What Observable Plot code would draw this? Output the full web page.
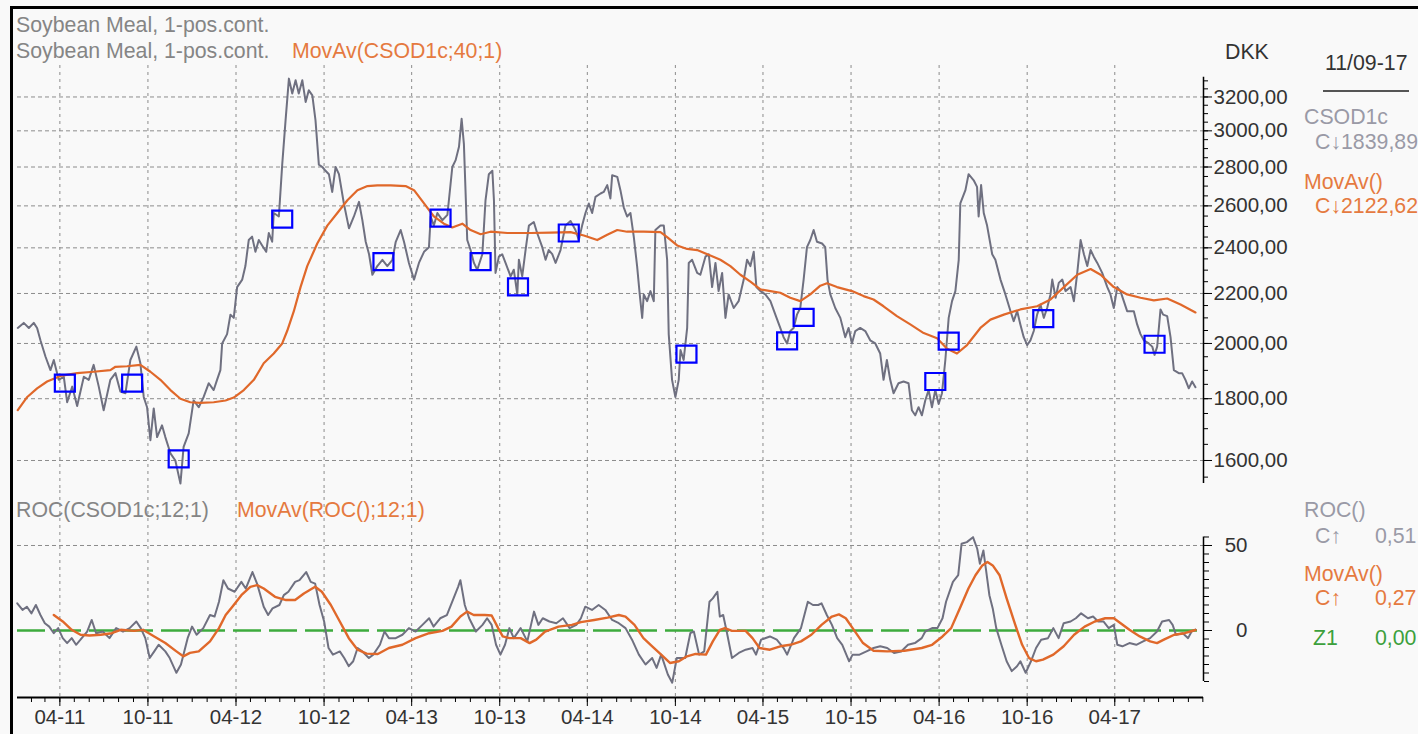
<!DOCTYPE html>
<html><head><meta charset="utf-8">
<script src="https://cdn.jsdelivr.net/npm/d3@7"></script>
<script src="https://cdn.jsdelivr.net/npm/@observablehq/plot@0.6"></script>
<style>
html,body{margin:0;padding:0;background:#f9f9f9;}
#chart{position:relative;width:1418px;height:734px;overflow:hidden;background:#f9f9f9;font-family:"Liberation Sans",Arial,sans-serif;}
#chart svg{position:absolute;left:0;}
.lbl{position:absolute;font-size:21.3px;line-height:20px;white-space:nowrap;}
.frame{position:absolute;background:#000;}
</style>
</head><body>
<div id="chart"></div>
<script>
// ---------- DATA (decimal year, value) ----------
const price = [
[2011.007,2060],[2011.041,2080],[2011.070,2060],[2011.098,2080],[2011.117,2060],[2011.136,2012],[2011.165,1950],[2011.193,1901],[2011.212,1938],[2011.240,1866],[2011.269,1877],[2011.288,1788],[2011.317,1842],[2011.345,1775],[2011.383,1877],[2011.411,1866],[2011.439,1920],[2011.468,1842],[2011.496,1761],[2011.534,1866],[2011.563,1890],[2011.591,1825],[2011.620,1819],[2011.648,1938],[2011.682,1988],[2011.705,1926],[2011.724,1806],[2011.743,1771],[2011.762,1663],[2011.781,1767],[2011.800,1673],[2011.828,1711],[2011.847,1673],[2011.876,1622],[2011.904,1600],[2011.933,1531],[2011.951,1642],[2011.980,1685],[2012.008,1794],[2012.037,1771],[2012.065,1806],[2012.094,1854],[2012.122,1830],[2012.141,1866],[2012.160,1901],[2012.170,2000],[2012.198,2036],[2012.217,2113],[2012.236,2100],[2012.255,2227],[2012.284,2259],[2012.302,2318],[2012.321,2436],[2012.340,2452],[2012.359,2382],[2012.378,2436],[2012.397,2411],[2012.420,2382],[2012.435,2469],[2012.454,2428],[2012.463,2565],[2012.492,2548],[2012.511,2813],[2012.530,3060],[2012.549,3314],[2012.568,3221],[2012.587,3304],[2012.605,3221],[2012.625,3304],[2012.644,3170],[2012.662,3241],[2012.682,3210],[2012.700,3060],[2012.719,2813],[2012.739,2800],[2012.757,2780],[2012.776,2762],[2012.795,2670],[2012.814,2800],[2012.833,2762],[2012.861,2612],[2012.890,2491],[2012.918,2548],[2012.947,2620],[2012.966,2530],[2012.985,2428],[2013.004,2371],[2013.023,2280],[2013.051,2318],[2013.080,2346],[2013.108,2318],[2013.137,2346],[2013.156,2428],[2013.184,2483],[2013.203,2428],[2013.231,2332],[2013.260,2259],[2013.288,2332],[2013.317,2382],[2013.345,2403],[2013.355,2548],[2013.373,2504],[2013.393,2565],[2013.421,2530],[2013.450,2556],[2013.478,2800],[2013.497,2837],[2013.516,2910],[2013.531,3070],[2013.544,2925],[2013.563,2436],[2013.582,2390],[2013.601,2332],[2013.620,2302],[2013.649,2371],[2013.667,2628],[2013.686,2762],[2013.706,2780],[2013.715,2628],[2013.724,2288],[2013.743,2360],[2013.762,2371],[2013.781,2332],[2013.810,2273],[2013.828,2302],[2013.848,2196],[2013.857,2346],[2013.876,2273],[2013.895,2390],[2013.914,2504],[2013.942,2521],[2013.961,2469],[2013.990,2403],[2014.009,2346],[2014.027,2390],[2014.047,2371],[2014.066,2332],[2014.094,2390],[2014.122,2504],[2014.151,2526],[2014.179,2483],[2014.198,2436],[2014.217,2504],[2014.236,2565],[2014.255,2612],[2014.274,2565],[2014.293,2645],[2014.322,2662],[2014.340,2670],[2014.360,2705],[2014.378,2637],[2014.388,2756],[2014.417,2748],[2014.435,2679],[2014.454,2593],[2014.473,2548],[2014.492,2565],[2014.511,2452],[2014.530,2318],[2014.545,2196],[2014.559,2100],[2014.568,2196],[2014.587,2168],[2014.606,2210],[2014.625,2168],[2014.634,2483],[2014.663,2504],[2014.682,2504],[2014.701,2346],[2014.710,2036],[2014.729,1866],[2014.748,1806],[2014.767,1866],[2014.777,1975],[2014.795,1938],[2014.815,2060],[2014.824,2332],[2014.843,2346],[2014.872,2288],[2014.890,2280],[2014.919,2360],[2014.938,2371],[2014.957,2227],[2014.976,2332],[2014.994,2210],[2015.014,2288],[2015.033,2100],[2015.051,2196],[2015.080,2140],[2015.108,2168],[2015.137,2259],[2015.156,2346],[2015.175,2318],[2015.194,2382],[2015.209,2227],[2015.232,2210],[2015.260,2196],[2015.289,2168],[2015.317,2113],[2015.345,2060],[2015.364,2024],[2015.384,2000],[2015.402,2048],[2015.421,2060],[2015.440,2113],[2015.459,2140],[2015.478,2259],[2015.497,2403],[2015.516,2436],[2015.535,2483],[2015.554,2428],[2015.583,2420],[2015.601,2403],[2015.614,2259],[2015.630,2196],[2015.658,2140],[2015.687,2100],[2015.715,2024],[2015.734,2060],[2015.753,2000],[2015.772,2048],[2015.800,2060],[2015.829,2048],[2015.857,2012],[2015.886,2000],[2015.914,1962],[2015.933,1866],[2015.952,1938],[2015.971,1866],[2015.990,1819],[2016.018,1854],[2016.047,1860],[2016.075,1854],[2016.094,1761],[2016.113,1744],[2016.132,1771],[2016.151,1744],[2016.170,1794],[2016.189,1830],[2016.208,1771],[2016.227,1830],[2016.246,1782],[2016.265,1819],[2016.284,1938],[2016.303,2100],[2016.322,2168],[2016.341,2210],[2016.360,2346],[2016.369,2612],[2016.398,2679],[2016.416,2762],[2016.445,2730],[2016.464,2696],[2016.473,2548],[2016.487,2705],[2016.502,2565],[2016.521,2504],[2016.550,2371],[2016.568,2346],[2016.597,2259],[2016.625,2196],[2016.654,2127],[2016.672,2087],[2016.692,2127],[2016.710,2074],[2016.729,2024],[2016.749,1994],[2016.767,2012],[2016.786,2048],[2016.805,2113],[2016.824,2154],[2016.843,2100],[2016.862,2140],[2016.881,2196],[2016.891,2259],[2016.910,2182],[2016.928,2245],[2016.948,2259],[2016.966,2210],[2016.995,2227],[2017.014,2168],[2017.033,2288],[2017.052,2436],[2017.071,2371],[2017.090,2318],[2017.109,2390],[2017.127,2360],[2017.147,2332],[2017.175,2288],[2017.204,2227],[2017.222,2196],[2017.241,2140],[2017.261,2227],[2017.279,2210],[2017.298,2168],[2017.317,2127],[2017.355,2127],[2017.374,2074],[2017.393,2036],[2017.412,2012],[2017.440,2000],[2017.460,1988],[2017.473,1957],[2017.488,1988],[2017.507,2134],[2017.522,2113],[2017.545,2107],[2017.564,2024],[2017.583,1901],[2017.611,1890],[2017.630,1890],[2017.649,1866],[2017.668,1836],[2017.687,1860],[2017.706,1840]
];
const priceMA = [
[2011.007,1761],[2011.061,1806],[2011.117,1836],[2011.174,1860],[2011.250,1880],[2011.345,1890],[2011.439,1895],[2011.534,1901],[2011.563,1913],[2011.629,1915],[2011.705,1920],[2011.762,1895],[2011.819,1866],[2011.876,1830],[2011.933,1800],[2011.989,1788],[2012.046,1786],[2012.122,1788],[2012.189,1794],[2012.236,1804],[2012.293,1830],[2012.350,1866],[2012.406,1926],[2012.463,1962],[2012.511,2000],[2012.539,2048],[2012.577,2127],[2012.615,2227],[2012.653,2318],[2012.710,2420],[2012.767,2504],[2012.824,2565],[2012.881,2628],[2012.938,2679],[2012.995,2700],[2013.051,2704],[2013.127,2704],[2013.212,2700],[2013.260,2679],[2013.317,2612],[2013.373,2548],[2013.430,2513],[2013.478,2495],[2013.535,2513],[2013.582,2483],[2013.639,2463],[2013.696,2475],[2013.791,2469],[2013.923,2469],[2014.037,2471],[2014.151,2473],[2014.227,2457],[2014.303,2436],[2014.360,2461],[2014.417,2483],[2014.473,2475],[2014.568,2475],[2014.663,2473],[2014.701,2450],[2014.758,2411],[2014.815,2395],[2014.872,2390],[2014.947,2365],[2015.004,2346],[2015.061,2318],[2015.118,2280],[2015.175,2250],[2015.232,2217],[2015.289,2210],[2015.345,2203],[2015.402,2182],[2015.459,2168],[2015.516,2196],[2015.573,2233],[2015.611,2243],[2015.668,2227],[2015.753,2210],[2015.819,2189],[2015.876,2175],[2015.933,2147],[2016.009,2107],[2016.085,2074],[2016.161,2040],[2016.237,2020],[2016.294,1980],[2016.350,1962],[2016.407,1994],[2016.483,2060],[2016.540,2093],[2016.616,2113],[2016.710,2134],[2016.805,2147],[2016.881,2175],[2016.957,2227],[2017.033,2280],[2017.109,2305],[2017.166,2280],[2017.241,2227],[2017.317,2196],[2017.393,2182],[2017.469,2171],[2017.545,2179],[2017.621,2154],[2017.706,2122]
];
const signals = [
[2011.275,1854],[2011.658,1854],[2011.923,1605],[2012.511,2535],[2013.086,2338],[2013.411,2540],[2013.639,2338],[2013.852,2228],[2014.141,2469],[2014.811,1960],[2015.384,2010],[2015.478,2102],[2016.227,1860],[2016.303,2009],[2016.840,2097],[2017.473,1997]
];
const roc = [
[2011.004,16.0],[2011.034,12.1],[2011.059,14.0],[2011.085,10.1],[2011.110,15.0],[2011.136,9.1],[2011.161,4.3],[2011.186,2.3],[2011.212,-1.6],[2011.237,1.4],[2011.263,-4.5],[2011.288,-7.4],[2011.314,-4.5],[2011.339,-8.4],[2011.364,-5.4],[2011.402,-0.6],[2011.428,6.2],[2011.453,-1.6],[2011.491,-0.6],[2011.529,-4.5],[2011.567,1.4],[2011.606,-0.6],[2011.644,1.4],[2011.682,5.3],[2011.707,1.4],[2011.733,-4.5],[2011.758,-16.2],[2011.784,-12.3],[2011.809,-8.4],[2011.847,-12.3],[2011.872,-16.2],[2011.910,-24.9],[2011.936,-20.0],[2011.974,-4.5],[2011.999,2.3],[2012.025,-2.5],[2012.063,1.4],[2012.101,9.1],[2012.127,8.2],[2012.152,16.9],[2012.177,29.6],[2012.203,24.7],[2012.241,22.8],[2012.279,28.6],[2012.304,24.7],[2012.342,34.4],[2012.368,27.6],[2012.406,14.0],[2012.431,9.1],[2012.456,13.0],[2012.495,15.0],[2012.520,20.8],[2012.546,22.8],[2012.584,28.6],[2012.609,29.6],[2012.647,34.4],[2012.673,28.6],[2012.698,27.6],[2012.723,15.0],[2012.749,5.3],[2012.774,-10.3],[2012.799,-14.2],[2012.838,-12.3],[2012.863,-16.2],[2012.889,-21.0],[2012.914,-18.1],[2012.939,-10.3],[2012.965,-12.3],[2013.003,-16.2],[2013.028,-14.2],[2013.066,-8.4],[2013.092,-0.6],[2013.117,-4.5],[2013.156,-4.5],[2013.194,-2.5],[2013.231,1.4],[2013.269,-0.6],[2013.308,3.3],[2013.346,7.2],[2013.371,2.3],[2013.409,7.2],[2013.447,9.1],[2013.485,18.9],[2013.511,25.7],[2013.524,29.6],[2013.549,15.0],[2013.574,7.2],[2013.612,-0.6],[2013.650,3.3],[2013.676,7.2],[2013.702,3.3],[2013.727,-8.4],[2013.752,-14.2],[2013.778,-8.4],[2013.803,1.4],[2013.828,-4.5],[2013.867,1.4],[2013.905,-6.4],[2013.943,11.1],[2013.968,3.3],[2013.993,7.2],[2014.031,5.3],[2014.070,4.3],[2014.108,7.2],[2014.146,1.4],[2014.184,3.3],[2014.210,7.2],[2014.235,14.0],[2014.273,12.1],[2014.311,15.0],[2014.349,12.1],[2014.388,6.2],[2014.426,4.3],[2014.464,1.4],[2014.501,-5.4],[2014.540,-14.2],[2014.578,-20.0],[2014.616,-16.2],[2014.641,-22.0],[2014.667,-14.2],[2014.705,-25.9],[2014.730,-30.7],[2014.756,-16.2],[2014.804,-16.2],[2014.833,-1.6],[2014.853,-0.6],[2014.883,-14.2],[2014.912,-12.3],[2014.942,16.9],[2014.961,18.9],[2014.987,22.8],[2015.001,8.2],[2015.020,9.1],[2015.040,-0.6],[2015.070,-16.2],[2015.109,-13.2],[2015.148,-11.3],[2015.187,-10.3],[2015.207,-14.2],[2015.236,-5.4],[2015.286,-3.5],[2015.325,-5.4],[2015.364,-10.3],[2015.384,-14.2],[2015.423,-4.5],[2015.463,1.4],[2015.502,16.9],[2015.531,15.0],[2015.561,15.0],[2015.580,16.0],[2015.610,9.1],[2015.639,3.3],[2015.669,-4.5],[2015.698,-8.4],[2015.737,-18.1],[2015.757,-14.2],[2015.796,-14.2],[2015.836,-12.3],[2015.876,-10.3],[2015.914,-9.3],[2015.954,-10.3],[2015.993,-13.2],[2016.033,-12.3],[2016.072,-8.4],[2016.111,-7.4],[2016.150,-4.5],[2016.170,-0.6],[2016.209,1.4],[2016.239,1.4],[2016.268,7.2],[2016.288,16.9],[2016.327,28.6],[2016.357,32.5],[2016.376,51.0],[2016.406,52.0],[2016.441,54.9],[2016.465,48.1],[2016.480,39.3],[2016.500,47.1],[2016.514,36.4],[2016.534,20.8],[2016.553,13.0],[2016.573,1.4],[2016.602,-8.4],[2016.632,-18.1],[2016.661,-23.9],[2016.691,-21.0],[2016.710,-18.1],[2016.740,-24.9],[2016.770,-18.1],[2016.799,-10.3],[2016.828,-5.4],[2016.867,-4.5],[2016.897,1.4],[2016.927,-4.5],[2016.956,4.3],[2016.995,5.3],[2017.025,7.2],[2017.055,10.1],[2017.094,7.2],[2017.123,8.2],[2017.152,5.3],[2017.182,5.3],[2017.212,1.4],[2017.241,3.3],[2017.261,-8.4],[2017.290,-9.3],[2017.330,-7.4],[2017.369,-8.4],[2017.408,-6.4],[2017.448,-4.5],[2017.487,-0.6],[2017.516,5.3],[2017.556,6.2],[2017.576,3.3],[2017.595,-2.5],[2017.634,-1.6],[2017.664,-4.5],[2017.684,-0.6],[2017.706,0.5]
];
const rocMA = [
[2011.212,9.1],[2011.263,5.3],[2011.314,0.4],[2011.364,-2.5],[2011.415,-2.9],[2011.479,-2.5],[2011.542,-1.6],[2011.593,0.4],[2011.669,-0.2],[2011.720,0.4],[2011.784,-3.5],[2011.847,-7.4],[2011.910,-12.3],[2011.949,-15.2],[2011.987,-13.2],[2012.037,-12.3],[2012.101,-6.4],[2012.152,1.4],[2012.190,9.1],[2012.228,14.0],[2012.279,20.8],[2012.330,25.7],[2012.368,26.7],[2012.406,24.7],[2012.470,19.8],[2012.533,17.9],[2012.584,17.9],[2012.634,21.8],[2012.698,25.7],[2012.736,22.8],[2012.787,15.0],[2012.838,5.3],[2012.889,-4.5],[2012.939,-11.3],[2012.990,-13.6],[2013.054,-13.8],[2013.117,-10.3],[2013.194,-8.4],[2013.269,-4.5],[2013.346,-1.6],[2013.422,-0.2],[2013.473,2.3],[2013.524,8.2],[2013.562,11.1],[2013.600,9.1],[2013.663,9.1],[2013.702,8.8],[2013.739,1.4],[2013.765,-3.5],[2013.803,-4.5],[2013.867,-4.5],[2013.918,-7.4],[2013.956,-5.4],[2014.006,-0.6],[2014.083,2.3],[2014.159,3.3],[2014.210,4.9],[2014.286,6.2],[2014.362,7.6],[2014.426,9.1],[2014.464,8.2],[2014.515,3.3],[2014.566,-4.5],[2014.616,-9.3],[2014.667,-14.2],[2014.717,-19.1],[2014.768,-18.1],[2014.814,-15.2],[2014.863,-13.8],[2014.922,-14.2],[2014.961,-6.4],[2015.001,0.4],[2015.030,1.4],[2015.070,-0.2],[2015.148,-0.2],[2015.187,-4.5],[2015.227,-10.3],[2015.286,-11.3],[2015.345,-9.3],[2015.403,-8.4],[2015.463,-6.4],[2015.522,-2.5],[2015.580,3.3],[2015.639,8.2],[2015.679,9.5],[2015.718,7.2],[2015.757,1.4],[2015.816,-7.4],[2015.876,-11.9],[2015.954,-12.3],[2016.052,-11.9],[2016.150,-10.3],[2016.209,-8.4],[2016.268,-3.5],[2016.317,1.4],[2016.366,13.0],[2016.415,24.7],[2016.455,32.5],[2016.494,38.3],[2016.523,40.3],[2016.553,38.3],[2016.592,32.5],[2016.632,18.9],[2016.681,3.3],[2016.720,-8.4],[2016.759,-16.2],[2016.799,-18.1],[2016.838,-17.1],[2016.897,-14.2],[2016.956,-9.3],[2017.015,-2.5],[2017.075,2.3],[2017.133,5.3],[2017.192,7.2],[2017.241,7.2],[2017.280,4.3],[2017.330,0.4],[2017.389,-3.5],[2017.448,-6.4],[2017.487,-7.4],[2017.526,-5.4],[2017.585,-2.5],[2017.644,-1.6],[2017.706,0.3]
];
const priceTicks = [1600, 1800, 2000, 2200, 2400, 2600, 2800, 3000, 3200];
const priceMinorTicks = d3.range(1550, 3301, 50);
const rocTicks = [0, 50];
const rocMinorTicks = d3.range(-30, 56, 5);
const titleLines = ["Soybean Meal, 1-pos.cont.", "Soybean Meal, 1-pos.cont."];
const maTitle = "MovAv(CSOD1c;40;1)";
const rocTitle = "ROC(CSOD1c;12;1)";
const rocMaTitle = "MovAv(ROC();12;1)";
const currency = "DKK";
const lastDate = "11/09-17";
const legendUpper = [["CSOD1c", "C\u21931839,89"], ["MovAv()", "C\u21932122,62"]];
const legendLower = [["ROC()", "C\u2191", "0,51"], ["MovAv()", "C\u2191", "0,27"], ["Z1", "", "0,00"]];

// ---------- helpers ----------
function toDate(t){const y=Math.floor(t);const a=Date.UTC(y,0,1),b=Date.UTC(y+1,0,1);return new Date(a+(t-y)*(b-a));}
const xDomain = [toDate(2011.0054), toDate(2017.7517)];
const gridDates = d3.utcMonths(new Date(Date.UTC(2011,0,1)), new Date(Date.UTC(2017,8,1))).filter(d => d.getUTCMonth()===3 || d.getUTCMonth()===9);
const monthTicks = d3.utcMonths(xDomain[0], xDomain[1]);
const fmtPrice = d => d3.format(".2f")(d).replace(".", ",");
const GRID = "#8c8c8c", GRAY = "#6f7080", ORANGE = "#e0682a", TXT = "#333333";
const boxSymbol = {draw(ctx){const w=20,h=17;ctx.moveTo(-w/2,-h/2);ctx.lineTo(w/2,-h/2);ctx.lineTo(w/2,h/2);ctx.lineTo(-w/2,h/2);ctx.closePath();}};
const X = d => toDate(d[0]), Y = d => d[1];
const baseStyle = {background:"transparent", fontFamily:"'Liberation Sans', Arial, sans-serif", fontSize:"20px", color:TXT, overflow:"visible"};

const upper = Plot.plot({
  width:1418, height:490, marginLeft:17, marginRight:215, marginTop:65, marginBottom:0,
  style: baseStyle,
  x:{type:"utc", domain:xDomain, axis:null},
  y:{type:"log", domain:[1511, 3398], axis:null},
  marks:[
    Plot.ruleX(gridDates, {stroke:GRID, strokeDasharray:"3,4", strokeWidth:1}),
    Plot.ruleY(priceTicks, {stroke:GRID, strokeDasharray:"4,3", strokeWidth:1}),
    Plot.ruleX([xDomain[1]], {y1:1531, y2:3323, stroke:"#000", strokeWidth:1.5}),
    Plot.axisY({anchor:"right", ticks:priceMinorTicks, tickSize:4, tickFormat:()=>"", label:null, stroke:"#000"}),
    Plot.axisY({anchor:"right", ticks:priceTicks, tickSize:8, tickFormat:()=>"", label:null, stroke:"#000"}),
    Plot.text(priceTicks, {y:d=>d, text:fmtPrice, frameAnchor:"right", dx:10, textAnchor:"start", fill:TXT, fontSize:20.5}),
    Plot.line(price, {x:X, y:Y, stroke:GRAY, strokeWidth:2}),
    Plot.line(priceMA, {x:X, y:Y, stroke:ORANGE, strokeWidth:2.2}),
    Plot.dot(signals, {x:X, y:Y, symbol:boxSymbol, stroke:"#0000ff", strokeWidth:2.2, fill:"none"})
  ]
});
upper.style.top = "0px";

const lower = Plot.plot({
  width:1418, height:244, marginLeft:17, marginRight:215, marginTop:0, marginBottom:37,
  style: baseStyle,
  x:{type:"utc", domain:xDomain, axis:null},
  y:{domain:[-39.41, 82.35], axis:null},
  marks:[
    Plot.ruleX(gridDates, {stroke:GRID, strokeDasharray:"3,4", strokeWidth:1}),
    Plot.ruleY([50], {stroke:GRID, strokeDasharray:"4,3", strokeWidth:1}),
    Plot.ruleY([0], {stroke:"#3dab3d", strokeWidth:2.5, strokeDasharray:"28,8"}),
    Plot.ruleX([xDomain[1]], {y1:-30, y2:55, stroke:"#000", strokeWidth:1.5}),
    Plot.axisY({anchor:"right", ticks:rocMinorTicks, tickSize:5, tickFormat:()=>"", label:null, stroke:"#000"}),
    Plot.axisY({anchor:"right", ticks:rocTicks, tickSize:8, tickFormat:()=>"", label:null, stroke:"#000"}),
    Plot.text(rocTicks, {y:d=>d, text:d=>String(d), frameAnchor:"right", dx:44, textAnchor:"end", fill:TXT, fontSize:20.5}),
    Plot.line(roc, {x:X, y:Y, stroke:GRAY, strokeWidth:2}),
    Plot.line(rocMA, {x:X, y:Y, stroke:ORANGE, strokeWidth:2.4}),
    Plot.ruleY([-39.41], {stroke:"#000", strokeWidth:2}),
    Plot.axisX({anchor:"bottom", ticks:monthTicks, tickSize:5, tickFormat:()=>"", label:null, stroke:"#000"}),
    Plot.axisX({anchor:"bottom", ticks:gridDates, tickSize:9, tickPadding:3, tickFormat:d3.utcFormat("%m-%y"), label:null, stroke:"#000", fill:TXT, fontSize:20.5})
  ]
});
lower.style.top = "490px";

const chart = document.getElementById("chart");
chart.appendChild(upper);
chart.appendChild(lower);

function label(text, left, baseline, color){
  const d = document.createElement("div");
  d.className = "lbl"; d.textContent = text;
  d.style.left = left + "px"; d.style.top = (baseline - 17.5) + "px"; d.style.color = color;
  chart.appendChild(d); return d;
}
function box(left, top, w, h, color){
  const d = document.createElement("div");
  d.className = "frame"; Object.assign(d.style, {left:left+"px", top:top+"px", width:w+"px", height:h+"px", background:color});
  chart.appendChild(d);
}
const TGRAY = "#858585", LGRAY = "#9a9aa6", TORANGE = "#e57a40", TGREEN = "#3ca03c";
box(10, 6, 1408, 3, "#000");
box(10, 6, 3, 728, "#000");
label(titleLines[0], 16, 32, TGRAY);
label(titleLines[1], 16, 58, TGRAY);
label(maTitle, 292, 58, TORANGE);
label(currency, 1225, 59, TXT);
label(lastDate, 1325, 70, TXT);
box(1323, 90, 86, 2, "#555");
label(legendUpper[0][0], 1304, 124, LGRAY);
label(legendUpper[0][1], 1315, 149, LGRAY);
label(legendUpper[1][0], 1304, 189, TORANGE);
label(legendUpper[1][1], 1315, 213, TORANGE);
label(rocTitle, 16, 517, TGRAY);
label(rocMaTitle, 237, 517, TORANGE);
const lowerColors = [LGRAY, TORANGE, TGREEN];
const lowerBase = [[517, 543], [581, 605], [null, 645]];
legendLower.forEach((r, i) => {
  const [b1, b2] = lowerBase[i];
  if (b1 !== null) { label(r[0], 1304, b1, lowerColors[i]); label(r[1], 1315, b2, lowerColors[i]); }
  else { label(r[0], 1313, b2, lowerColors[i]); }
  label(r[2], 1375, b2, lowerColors[i]);
});
</script>
</body></html>
